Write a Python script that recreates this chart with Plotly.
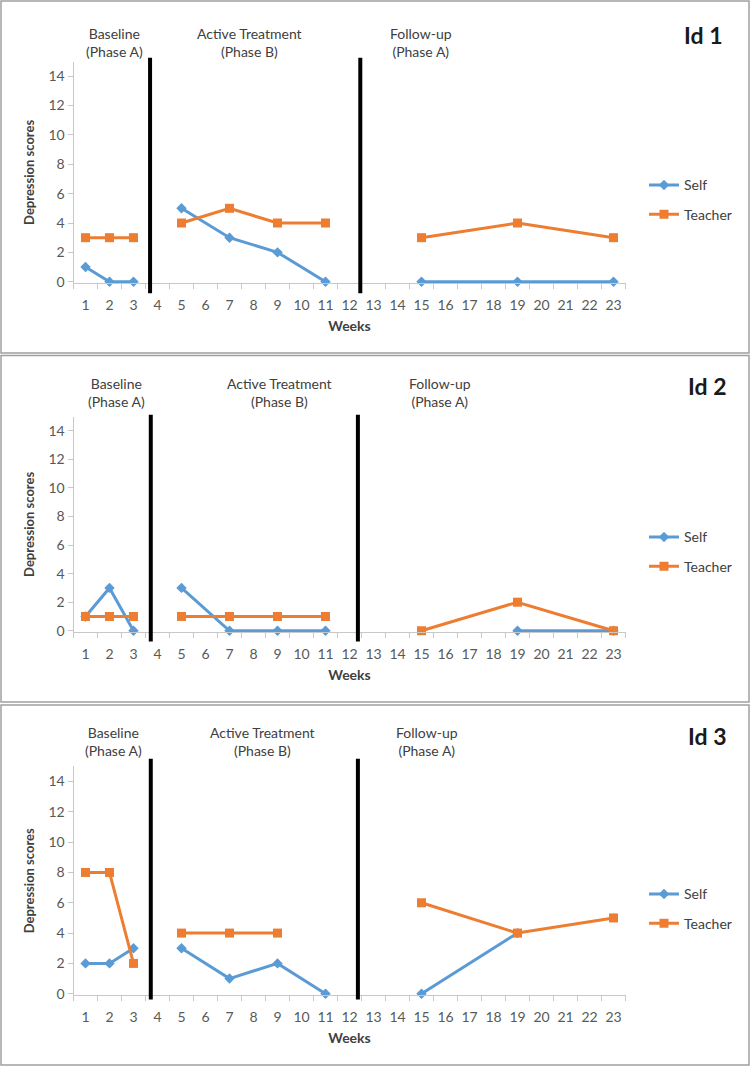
import plotly.graph_objects as go

# ---------------- data ----------------
week_ticks = list(range(1, 24))
baseline_weeks = [1, 2, 3]
treatment_weeks = [5, 7, 9, 11]
followup_weeks = [15, 19, 23]

self_id1 = [1, 0, 0, 5, 3, 2, 0, 0, 0, 0]
teacher_id1 = [3, 3, 3, 4, 5, 4, 4, 3, 4, 3]
self_id2 = [1, 3, 0, 3, 0, 0, 0, None, 0, 0]
teacher_id2 = [1, 1, 1, 1, 1, 1, 1, 0, 2, 0]
self_id3 = [2, 2, 3, 3, 1, 2, 0, 0, 4, None]
teacher_id3 = [8, 8, 2, 4, 4, 4, None, 6, 4, 5]

panel_ids = ["Id 1", "Id 2", "Id 3"]
series_names = ["Self", "Teacher"]
phase_labels = ["Baseline<br>(Phase A)", "Active Treatment<br>(Phase B)", "Follow-up<br>(Phase A)"]
y_ticks = [0, 2, 4, 6, 8, 10, 12, 14]
phase_boundaries = [[3.69, 12.45], [3.72, 12.35], [3.72, 12.35]]

series_data = [(self_id1, teacher_id1), (self_id2, teacher_id2), (self_id3, teacher_id3)]

# ---------------- layout (pixels) ----------------
W, H = 750, 1072
X_LEFT, X_RIGHT = 73.5, 625.5
panels = [
    dict(zero=283.3, top=61.9, box=(1, 355), vl=(58, 295),
         phase_x=[115, 249.5, 421], phase_y=43, id_xy=(703, 35), leg_y=201),
    dict(zero=634.3, top=418.9, box=(357.5, 706), vl=(417, 645),
         phase_x=[116, 279.5, 440], phase_y=394.5, id_xy=(707, 388), leg_y=555),
    dict(zero=999.3, top=770.7, box=(709, 1071), vl=(763, 1005),
         phase_x=[113, 262, 427], phase_y=745.5, id_xy=(707, 740), leg_y=914),
]

SELF_C = "#5B9BD5"
TEACH_C = "#ED7D31"
FONT = "Lato"
TXT = "#404040"
TICK_TXT = "#595959"
AXIS_C = "#c8c8c8"


def py(p):
    return 1 - p / H


def px(p):
    return p / W


def phase_xy(values):
    xs, ys = [], []
    i = 0
    for k, weeks in enumerate([baseline_weeks, treatment_weeks, followup_weeks]):
        if k:
            xs.append(None)
            ys.append(None)
        for w in weeks:
            v = values[i]
            i += 1
            if v is not None:
                xs.append(w)
                ys.append(v)
    return xs, ys


fig = go.Figure()
shapes = []
annotations = []
YMIN = -0.1

for pi, (panel, (s_vals, t_vals)) in enumerate(zip(panels, series_data)):
    n = "" if pi == 0 else str(pi + 1)
    xa, ya = "x" + n, "y" + n
    leg = "legend" + n
    unit = (panel["zero"] - panel["top"]) / 15.0
    bottom = panel["zero"] - YMIN * unit

    for name, vals, color, sym, size in [
        (series_names[0], s_vals, SELF_C, "diamond", 8),
        (series_names[1], t_vals, TEACH_C, "square", 9),
    ]:
        xs, ys = phase_xy(vals)
        fig.add_trace(go.Scatter(
            x=xs, y=ys, name=name, mode="lines+markers",
            line=dict(color=color, width=3),
            marker=dict(symbol=sym, size=size, color=color),
            connectgaps=False, cliponaxis=False,
            xaxis=xa, yaxis=ya, legend=leg,
            legendgroup=name + n, showlegend=True,
        ))

    fig.layout["xaxis" + n] = dict(
        domain=[px(X_LEFT), px(X_RIGHT)], anchor=ya,
        range=[0.5, 23.5], tickmode="array", tickvals=week_ticks,
        ticktext=[str(w) for w in week_ticks], ticks="",
        ticklabelstandoff=9,
        minor=dict(tickmode="linear", tick0=0.5, dtick=1, ticks="outside",
                   ticklen=5, tickcolor=AXIS_C, tickwidth=1, showgrid=False),
        showline=True, linecolor=AXIS_C, linewidth=1,
        showgrid=False, zeroline=False, fixedrange=True,
        tickfont=dict(family=FONT, size=14, color=TICK_TXT),
        title=dict(text="<b>Weeks</b>", standoff=9,
                   font=dict(family=FONT, size=14, color=TXT)),
    )
    fig.layout["yaxis" + n] = dict(
        domain=[py(bottom), py(panel["top"])], anchor=xa,
        range=[YMIN, 15], tickmode="array", tickvals=y_ticks,
        ticks="outside", ticklen=5, tickcolor=AXIS_C,
        showline=True, linecolor=AXIS_C, linewidth=1,
        showgrid=False, zeroline=False, fixedrange=True,
        tickfont=dict(family=FONT, size=14, color=TICK_TXT),
        title=dict(text="<b>Depression scores</b>", standoff=10,
                   font=dict(family=FONT, size=13, color=TXT)),
    )

    fig.layout[leg] = dict(
        x=px(644), xanchor="left", y=py(panel["leg_y"]), yanchor="middle",
        traceorder="grouped", tracegroupgap=8,
        font=dict(family=FONT, size=14, color=TXT),
        bgcolor="rgba(0,0,0,0)", borderwidth=0,
    )

    # panel border
    shapes.append(dict(type="rect", xref="paper", yref="paper",
                       x0=px(1), x1=px(749), y0=py(panel["box"][1]), y1=py(panel["box"][0]),
                       line=dict(color="#a0a0a0", width=1.5)))
    # phase change lines
    for xb in phase_boundaries[pi]:
        shapes.append(dict(type="line", xref=xa, yref="paper",
                           x0=xb, x1=xb, y0=py(panel["vl"][1]), y1=py(panel["vl"][0]),
                           line=dict(color="black", width=4)))
    # phase labels
    for lab, cx in zip(phase_labels, panel["phase_x"]):
        annotations.append(dict(text=lab, xref="paper", yref="paper",
                                x=px(cx), y=py(panel["phase_y"]), xanchor="center",
                                yanchor="middle", showarrow=False, align="center",
                                font=dict(family=FONT, size=14, color=TXT)))
    annotations.append(dict(text="<b>" + panel_ids[pi] + "</b>", xref="paper", yref="paper",
                            x=px(panel["id_xy"][0]), y=py(panel["id_xy"][1]),
                            xanchor="center", yanchor="middle", showarrow=False,
                            font=dict(family=FONT, size=23, color="#1a1a1a")))

fig.update_layout(
    width=W, height=H, margin=dict(l=0, r=0, t=0, b=0),
    paper_bgcolor="white", plot_bgcolor="white",
    shapes=shapes, annotations=annotations,
    font=dict(family=FONT),
)

fig.write_html(
    "out.html",
    config={"displayModeBar": False},
    post_script="document.body.style.margin='0';document.body.style.overflow='hidden';",
)
